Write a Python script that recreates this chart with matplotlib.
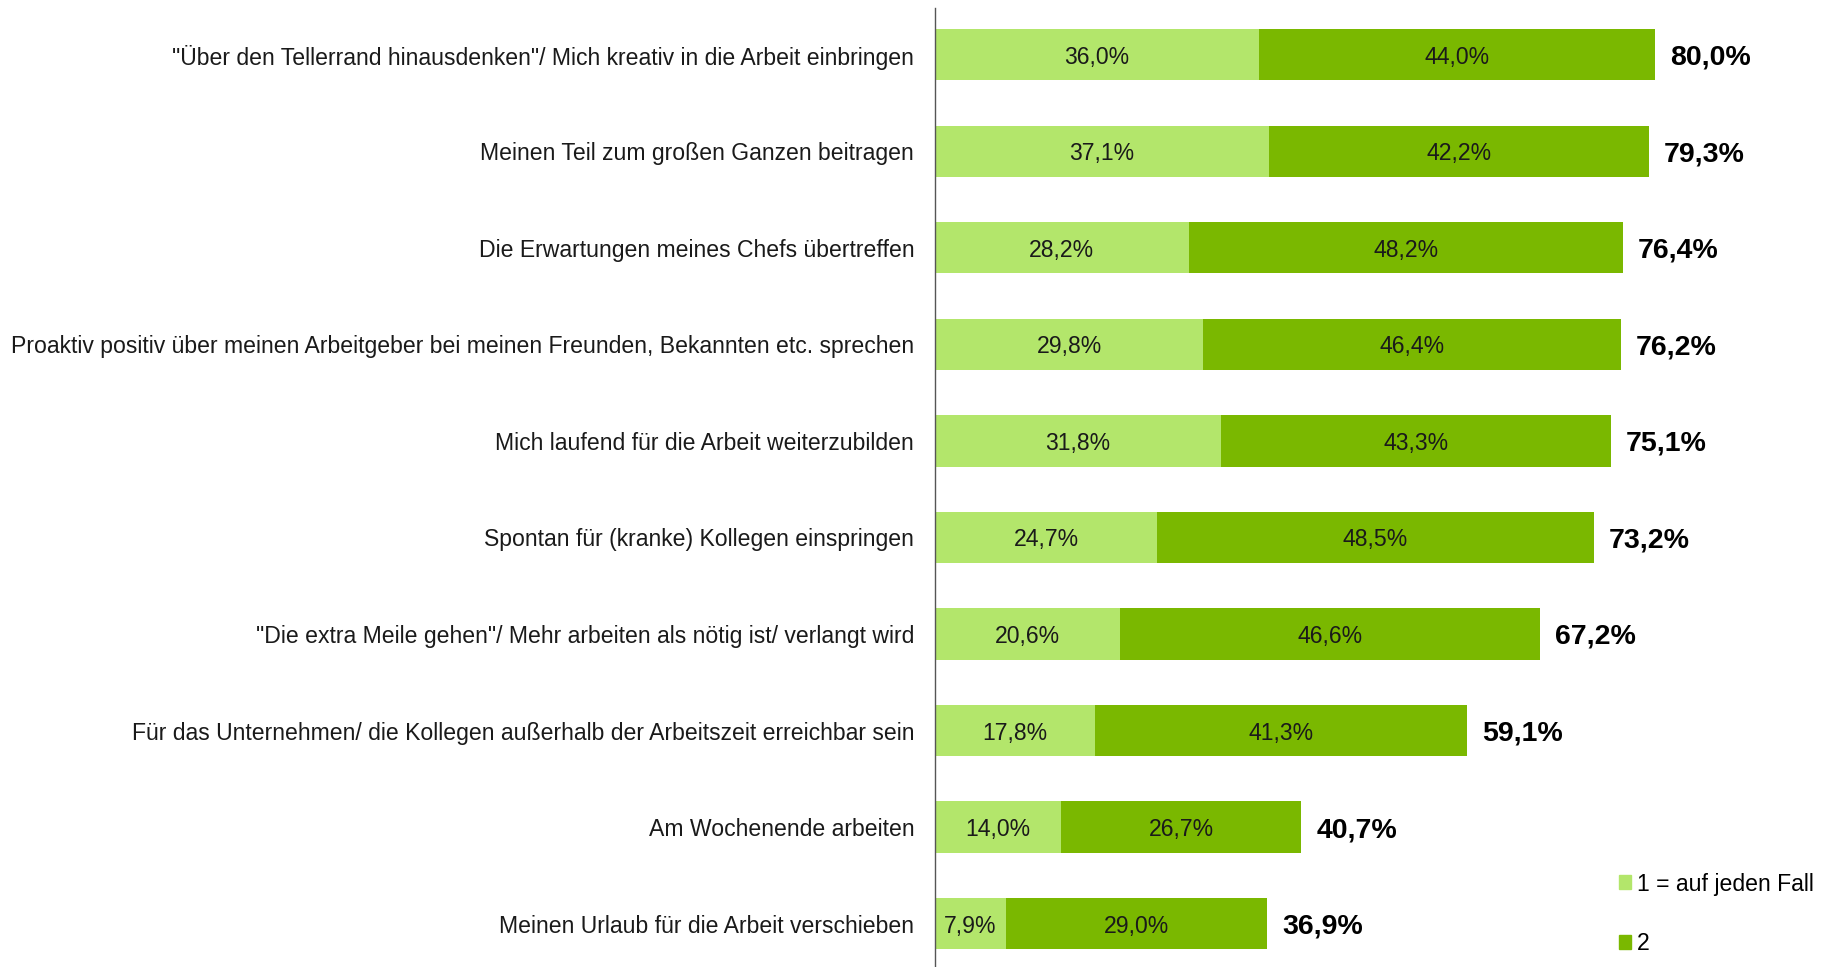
import matplotlib
matplotlib.use("Agg")
import matplotlib.pyplot as plt
from matplotlib.patches import Patch

plt.rcParams['font.family'] = ['Liberation Sans', 'DejaVu Sans']

categories = [
    '"Über den Tellerrand hinausdenken"/ Mich kreativ in die Arbeit einbringen',
    'Meinen Teil zum großen Ganzen beitragen',
    'Die Erwartungen meines Chefs übertreffen',
    'Proaktiv positiv über meinen Arbeitgeber bei meinen Freunden, Bekannten etc. sprechen',
    'Mich laufend für die Arbeit weiterzubilden',
    'Spontan für (kranke) Kollegen einspringen',
    '"Die extra Meile gehen"/ Mehr arbeiten als nötig ist/ verlangt wird',
    'Für das Unternehmen/ die Kollegen außerhalb der Arbeitszeit erreichbar sein',
    'Am Wochenende arbeiten',
    'Meinen Urlaub für die Arbeit verschieben',
]
series1 = [36.0, 37.1, 28.2, 29.8, 31.8, 24.7, 20.6, 17.8, 14.0, 7.9]
series2 = [44.0, 42.2, 48.2, 46.4, 43.3, 48.5, 46.6, 41.3, 26.7, 29.0]
totals = [80.0, 79.3, 76.4, 76.2, 75.1, 73.2, 67.2, 59.1, 40.7, 36.9]
legend_labels = ['1 = auf jeden Fall', '2']

c1 = '#B3E66B'
c2 = '#7AB800'

def fmt(v):
    return f'{v:.1f}%'.replace('.', ',')

fig = plt.figure(figsize=(18.35, 9.67), dpi=100)
ax = fig.add_axes([935/1835, 0.0, 1 - 935/1835, 1 - 8/967])

y = list(range(len(categories)))
h = 0.53
ax.barh(y, series1, height=h, color=c1, edgecolor='none')
ax.barh(y, series2, left=series1, height=h, color=c2, edgecolor='none')

for i in y:
    ax.text(series1[i] / 2, i, fmt(series1[i]), ha='center', va='center_baseline', fontsize=16.6, color='#1a1a1a')
    ax.text(series1[i] + series2[i] / 2, i, fmt(series2[i]), ha='center', va='center_baseline', fontsize=16.6, color='#1a1a1a')
    ax.text(totals[i] + 1.7, i, fmt(totals[i]), ha='left', va='center_baseline', fontsize=20.5, fontweight='bold', color='black')

ax.set_xlim(0, 100)
ax.set_ylim(9.45, -0.485)
ax.set_yticks(y)
ax.set_yticklabels(categories, fontsize=16.6, color='#1a1a1a')
ax.tick_params(axis='y', length=0, pad=15)
ax.set_xticks([])
for s in ['top', 'right', 'bottom']:
    ax.spines[s].set_visible(False)
ax.spines['left'].set_color('#555555')
ax.spines['left'].set_linewidth(1.0)

handles = [Patch(color=c1, label=legend_labels[0]), Patch(color=c2, label=legend_labels[1])]
fig.legend(handles=handles, loc='lower left', bbox_to_anchor=(1607/1835, 0.0),
           frameon=False, fontsize=16.6, handlelength=0.55, handleheight=0.55,
           handletextpad=0.25, labelspacing=1.6, borderaxespad=0.1)

fig.savefig('out.png', dpi=100)
